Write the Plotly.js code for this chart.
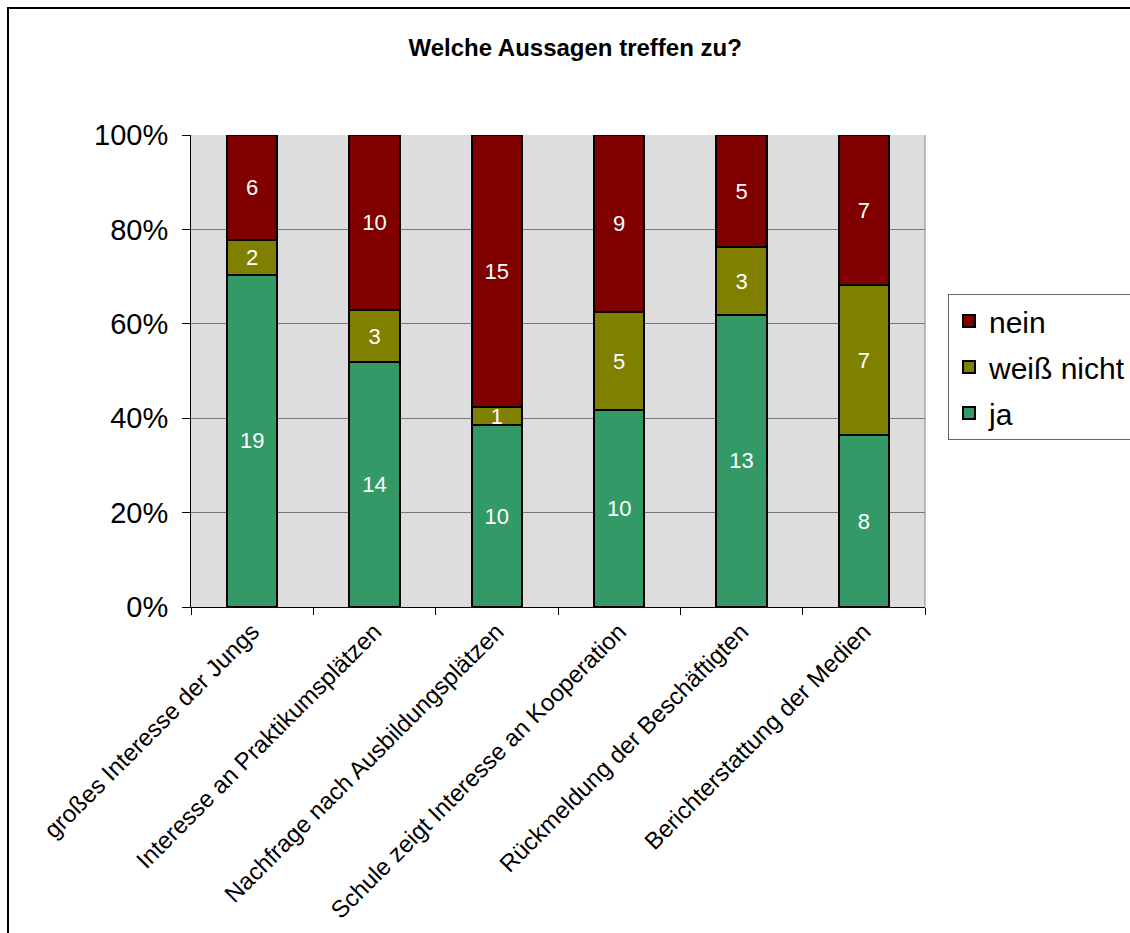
<!DOCTYPE html>
<html>
<head>
<meta charset="utf-8">
<script src="https://cdn.plot.ly/plotly-3.0.1.min.js"></script>
<style>
  html, body { margin: 0; padding: 0; background: #fff; overflow: hidden; }
  #chart { width: 1130px; height: 933px; }
  #frame { position: absolute; left: 7px; top: 7px; width: 1300px; height: 1100px;
           border: 2px solid #000; pointer-events: none; box-sizing: border-box; }
</style>
</head>
<body>
<div id="chart"></div>
<div id="frame"></div>
<script>
const categories = [
  "großes Interesse der Jungs",
  "Interesse an Praktikumsplätzen",
  "Nachfrage nach Ausbildungsplätzen",
  "Schule zeigt Interesse an Kooperation",
  "Rückmeldung der Beschäftigten",
  "Berichterstattung der Medien"
];
const ja = [19, 14, 10, 10, 13, 8];
const weissNicht = [2, 3, 1, 5, 3, 7];
const nein = [6, 10, 15, 9, 5, 7];
const yTickVals = [0, 20, 40, 60, 80, 100];
const yTickText = ["0%", "20%", "40%", "60%", "80%", "100%"];

function mk(name, vals, color, rank) {
  return {
    type: 'bar', name: name, x: categories, y: vals, legendgroup: name, legendrank: rank,
    text: vals.map(String), textposition: 'inside', insidetextanchor: 'middle',
    constraintext: 'none', textangle: 0,
    textfont: {color: '#ffffff', size: 22, family: 'Liberation Sans, Arial, sans-serif'},
    marker: {color: color, line: {color: '#000000', width: 2}},
    hoverinfo: 'none'
  };
}

const data = [
  mk('ja', ja, '#339966', 3),
  mk('weiß nicht', weissNicht, '#808000', 2),
  mk('nein', nein, '#800000', 1)
];

const layout = {
  width: 1130, height: 933,
  margin: {l: 191, r: 205, t: 135, b: 326, autoexpand: false},
  paper_bgcolor: '#ffffff', plot_bgcolor: '#dddddd',
  font: {family: 'Liberation Sans, Arial, sans-serif', color: '#000'},
  barmode: 'stack', barnorm: 'percent', bargap: 0.59,
  title: {text: '<b>Welche Aussagen treffen zu?</b>', font: {size: 24, color: '#000'},
          xref: 'container', x: 0.509, xanchor: 'center',
          yref: 'container', y: 1 - 48/933, yanchor: 'middle'},
  xaxis: {
    type: 'category', tickangle: -45, tickfont: {size: 24}, automargin: false,
    ticks: 'outside', tickson: 'boundaries', ticklen: 7, tickcolor: '#000', tickwidth: 1,
    showline: true, linecolor: '#000', linewidth: 1, showgrid: false
  },
  yaxis: {
    range: [0, 100], tickmode: 'array', tickvals: yTickVals, ticktext: yTickText,
    tickfont: {size: 29}, ticklabelstandoff: 8, automargin: false,
    ticks: 'outside', ticklen: 8, tickcolor: '#000', tickwidth: 1,
    showline: true, linecolor: '#000', linewidth: 1, mirror: false,
    showgrid: true, gridcolor: '#777777', gridwidth: 1, zeroline: false
  },
  shapes: [{type: 'line', xref: 'paper', yref: 'paper', x0: 1, x1: 1, y0: 0, y1: 1,
            line: {color: '#888888', width: 1}}],
  legend: {
    x: (948 - 191) / 734, xanchor: 'left', y: (607 - 294) / 472, yanchor: 'top',
    traceorder: 'grouped', font: {size: 30, color: '#000'},
    bordercolor: '#666666', borderwidth: 1, bgcolor: '#ffffff',
    tracegroupgap: 4, itemclick: false
  },
  showlegend: true
};

Plotly.newPlot('chart', data, layout, {staticPlot: true, displayModeBar: false});
</script>
</body>
</html>
